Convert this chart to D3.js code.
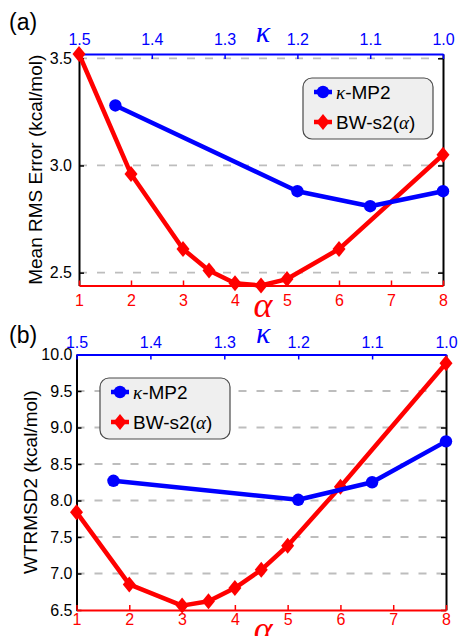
<!DOCTYPE html>
<html>
<head>
<meta charset="utf-8">
<script src="https://cdn.jsdelivr.net/npm/d3@7"></script>
<style>
  body { margin: 0; background: #fff; }
  svg { display: block; font-family: "Liberation Sans", Arial, sans-serif; }
</style>
</head>
<body>
<svg id="chart" width="460" height="636"></svg>
<script>
// alpha runs along the bottom (red) axis, kappa along the top (blue) axis
const alphaValues = [1, 2, 3, 3.5, 4, 4.5, 5, 6, 8];
const kappaValues = [1.45, 1.2, 1.1, 1.0];

// panel (a): mean RMS error
const rmsBW = [3.52, 2.96, 2.61, 2.51, 2.45, 2.44, 2.47, 2.61, 3.05];
const rmsKappa = [3.28, 2.88, 2.81, 2.88];

// panel (b): WTRMSD2
const wtBW = [7.84, 6.85, 6.56, 6.62, 6.80, 7.05, 7.38, 8.19, 9.88];
const wtKappa = [8.27, 8.01, 8.25, 8.81];

const alphaTicks = [1, 2, 3, 4, 5, 6, 7, 8];
const kappaTicks = [1.5, 1.4, 1.3, 1.2, 1.1, 1.0];
const rmsTicks = [2.5, 3.0, 3.5];
const wtTicks = [6.5, 7.0, 7.5, 8.0, 8.5, 9.0, 9.5, 10.0];

const svg = d3.select("#chart");

const BLUE = "#0000ff", RED = "#ff0000";

function diamond(w, h) {
  return `M0,${-h}L${w},0L0,${h}L${-w},0Z`;
}

function drawPanel(opt) {
  const g = svg.append("g");

  const x = d3.scaleLinear().domain([1, 8]).range([opt.left, opt.right]);
  const xk = d3.scaleLinear().domain([1.5, 1.0]).range([opt.left, opt.right]);
  const y = d3.scaleLinear().domain(opt.yDomain).range([opt.bottom, opt.top]);

  // dashed grid
  g.append("g")
    .selectAll("line")
    .data(opt.yTicks.filter(t => y(t) > opt.top + 2 && y(t) < opt.bottom - 2))
    .join("line")
    .attr("x1", opt.left).attr("x2", opt.right)
    .attr("y1", d => y(d)).attr("y2", d => y(d))
    .attr("stroke", "#bdbdbd")
    .attr("stroke-width", 1.8)
    .attr("stroke-dasharray", "8,10");

  // left axis
  const left = g.append("g")
    .attr("transform", `translate(${opt.left},0)`)
    .call(d3.axisLeft(y).tickValues(opt.yTicks).tickFormat(d3.format(".1f"))
      .tickSizeInner(-5).tickSizeOuter(0).tickPadding(opt.yPad));
  left.select(".domain").attr("stroke", "#000").attr("stroke-width", 2);
  left.selectAll(".tick line").attr("stroke", "#000").attr("stroke-width", 1.5);
  left.selectAll(".tick text").style("font-size", "16px").attr("fill", "#000");

  // right axis, ticks only
  const right = g.append("g")
    .attr("transform", `translate(${opt.right},0)`)
    .call(d3.axisRight(y).tickValues(opt.yTicks).tickFormat("")
      .tickSizeInner(-5).tickSizeOuter(0));
  right.select(".domain").attr("stroke", "#000").attr("stroke-width", 2);
  right.selectAll(".tick line").attr("stroke", "#000").attr("stroke-width", 1.5);

  // top kappa axis
  const top = g.append("g")
    .attr("transform", `translate(0,${opt.top})`)
    .call(d3.axisTop(xk).tickValues(kappaTicks).tickFormat(d3.format(".1f"))
      .tickSizeInner(-5).tickSizeOuter(0).tickPadding(opt.topPad));
  top.select(".domain").attr("stroke", BLUE).attr("stroke-width", 2);
  top.selectAll(".tick line").attr("stroke", BLUE).attr("stroke-width", 1.5);
  top.selectAll(".tick text").style("font-size", "16px").attr("fill", BLUE);

  // bottom alpha axis
  const bottom = g.append("g")
    .attr("transform", `translate(0,${opt.bottom})`)
    .call(d3.axisBottom(x).tickValues(alphaTicks).tickFormat(d3.format("d"))
      .tickSizeInner(-5).tickSizeOuter(0).tickPadding(opt.bottomPad));
  bottom.select(".domain").attr("stroke", RED).attr("stroke-width", 2);
  bottom.selectAll(".tick line").attr("stroke", RED).attr("stroke-width", 1.5);
  bottom.selectAll(".tick text").style("font-size", "16px").attr("fill", RED);

  // axis symbols
  g.append("text")
    .attr("x", (opt.left + opt.right) / 2 + 2)
    .attr("y", opt.top - 12)
    .attr("text-anchor", "middle")
    .style("font-family", "'Liberation Serif', serif")
    .style("font-style", "italic")
    .style("font-size", "30px")
    .attr("fill", BLUE)
    .text("κ");

  g.append("text")
    .attr("x", (opt.left + opt.right) / 2 + 2)
    .attr("y", opt.bottom + opt.alphaDy)
    .attr("text-anchor", "middle")
    .style("font-family", "'Liberation Serif', serif")
    .style("font-style", "italic")
    .style("font-size", "36px")
    .attr("fill", RED)
    .text("α");

  // y label
  g.append("text")
    .attr("text-anchor", "middle")
    .attr("transform", `translate(${opt.labelX}, ${(opt.top + opt.bottom) / 2}) rotate(-90)`)
    .style("font-size", "19px")
    .text(opt.yLabel);

  // panel tag
  g.append("text")
    .attr("x", 9)
    .attr("y", opt.tagY)
    .style("font-size", "23px")
    .text(opt.tag);

  // series
  const lineBW = d3.line().x((d, i) => x(alphaValues[i])).y(d => y(d));
  const lineK = d3.line().x((d, i) => xk(kappaValues[i])).y(d => y(d));

  g.append("path")
    .datum(opt.bw)
    .attr("fill", "none")
    .attr("stroke", RED)
    .attr("stroke-width", 4.5)
    .attr("stroke-linejoin", "round")
    .attr("d", lineBW);

  g.append("g")
    .selectAll("path")
    .data(opt.bw)
    .join("path")
    .attr("transform", (d, i) => `translate(${x(alphaValues[i])},${y(d)})`)
    .attr("d", diamond(6.5, 8))
    .attr("fill", RED);

  g.append("path")
    .datum(opt.kappa)
    .attr("fill", "none")
    .attr("stroke", BLUE)
    .attr("stroke-width", 4.5)
    .attr("stroke-linejoin", "round")
    .attr("d", lineK);

  g.append("g")
    .selectAll("circle")
    .data(opt.kappa)
    .join("circle")
    .attr("cx", (d, i) => xk(kappaValues[i]))
    .attr("cy", d => y(d))
    .attr("r", 6.2)
    .attr("fill", BLUE);

  // legend
  const lg = g.append("g").attr("transform", `translate(${opt.legX},${opt.legY})`);
  lg.append("rect")
    .attr("width", 130).attr("height", 61)
    .attr("rx", 9)
    .attr("fill", "#efefef")
    .attr("stroke", "#4a4a4a")
    .attr("stroke-width", 1.2);

  const entries = [
    { color: BLUE, greek: "κ", rest: "-MP2", marker: "circle" },
    { color: RED, pre: "BW-s2(", greek: "α", post: ")", marker: "diamond" }
  ];

  entries.forEach((e, i) => {
    const cy = 14 + i * 30;
    lg.append("line")
      .attr("x1", 11).attr("x2", 29)
      .attr("y1", cy).attr("y2", cy)
      .attr("stroke", e.color).attr("stroke-width", 4.5);
    if (e.marker === "circle") {
      lg.append("circle").attr("cx", 20).attr("cy", cy).attr("r", 6.2).attr("fill", e.color);
    } else {
      lg.append("path").attr("transform", `translate(20,${cy})`)
        .attr("d", diamond(6.5, 8)).attr("fill", e.color);
    }
    const t = lg.append("text")
      .attr("x", 33).attr("y", cy + 7)
      .style("font-size", "19px");
    if (e.pre) t.append("tspan").text(e.pre);
    t.append("tspan")
      .style("font-family", "'Liberation Serif', serif")
      .style("font-style", "italic")
      .text(e.greek);
    if (e.rest) t.append("tspan").text(e.rest);
    if (e.post) t.append("tspan").text(e.post);
  });
}

drawPanel({
  tag: "(a)", tagY: 30,
  left: 79, right: 443, top: 54, bottom: 285.5,
  yDomain: [2.44, 3.52], yTicks: rmsTicks,
  yPad: 7, topPad: 9, bottomPad: 9, alphaDy: 31,
  labelX: 42, yLabel: "Mean RMS Error (kcal/mol)",
  bw: rmsBW, kappa: rmsKappa,
  legX: 303, legY: 78
});

drawPanel({
  tag: "(b)", tagY: 343,
  left: 76.5, right: 446, top: 354.5, bottom: 610,
  yDomain: [6.5, 10.0], yTicks: wtTicks,
  yPad: 4, topPad: 7, bottomPad: 4, alphaDy: 31,
  labelX: 37, yLabel: "WTRMSD2 (kcal/mol)",
  bw: wtBW, kappa: wtKappa,
  legX: 100, legY: 378
});
</script>
</body>
</html>
